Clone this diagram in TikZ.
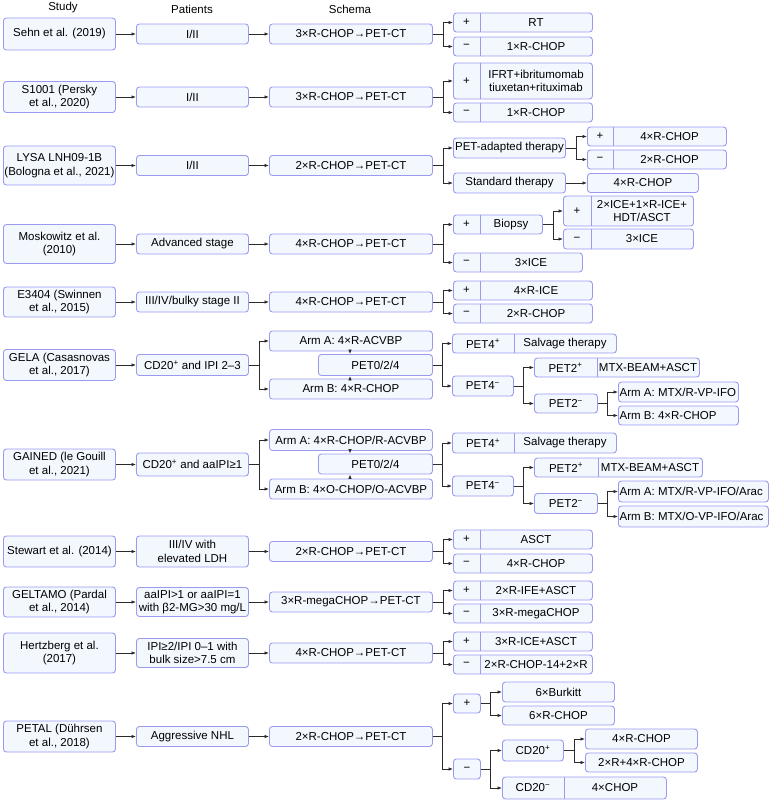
\documentclass[tikz,border=0pt]{standalone}
\usepackage{fontspec}
\setmainfont{Liberation Sans}
\usetikzlibrary{arrows.meta}
\definecolor{bcol}{HTML}{9A9AF0}
\definecolor{fcol}{HTML}{F3F7FE}
\definecolor{lcol}{HTML}{2B2B2B}
\newcommand{\fs}{\fontsize{11.5}{13.5}\selectfont}
\tikzset{
 bx/.style={draw=bcol, fill=fcol, rounded corners=3pt, line width=0.9pt, inner sep=0.5pt, font=\fs, align=center},
 txt/.style={font=\fs, inner sep=0pt, align=center},
 dv/.style={draw=bcol, line width=0.9pt},
 arr/.style={draw=lcol, line width=0.8pt, -{Latex[length=4.5pt,width=3.6pt]}},
}
\newcommand{\BX}[6]{%
 \pgfmathsetmacro\mybw{#3-#2}%
 \node[bx,anchor=west,minimum width=\mybw pt,minimum height=#5pt] (#1) at (#2,-#4) {#6};}
\newcommand{\BXL}[6]{%
 \pgfmathsetmacro\mybw{#3-#2}%
 \pgfmathsetmacro\myxl{#2+1.5}%
 \node[bx,anchor=west,minimum width=\mybw pt,minimum height=#5pt] (#1) at (#2,-#4) {};%
 \node[txt,anchor=west] (#1t) at (\myxl,-#4) {#6};}
\newcommand{\SB}[8]{%
 \pgfmathsetmacro\mybw{#4-#2}%
 \pgfmathsetmacro\myyt{-#5+#6/2}%
 \pgfmathsetmacro\myyb{-#5-#6/2}%
 \pgfmathsetmacro\myxl{(#2+#3)/2}%
 \pgfmathsetmacro\myxr{(#3+#4)/2}%
 \node[bx,anchor=west,minimum width=\mybw pt,minimum height=#6pt] (#1) at (#2,-#5) {};%
 \draw[dv] (#3,\myyt) -- (#3,\myyb);%
 \node[txt] (#1l) at (\myxl,-#5) {#7};%
 \node[txt] (#1r) at (\myxr,-#5) {#8};}
\begin{document}
\begin{tikzpicture}[x=1pt,y=1pt]
\useasboundingbox (0,0) rectangle (770,-801);
% headers
\node[txt] (h1) at (63,-8) {Study};
\node[txt] (h2) at (192,-9) {Patients};
\node[txt] (h3) at (350,-9) {Schema};
% Row 1
\BX{s1}{3}{115}{34}{32}{Sehn et al. (2019)}
\BX{p1}{136}{248}{34}{20}{I/II}
\BX{c1}{269}{432}{34}{20}{3×R-CHOP→PET-CT}
\SB{r1a}{453}{480}{592}{22.5}{19}{+}{RT}
\SB{r1b}{453}{480}{592}{46.5}{19}{−}{1×R-CHOP}
\draw[arr] (s1.east) -- (p1.west);
\draw[arr] (p1.east) -- (c1.west);
\draw[arr] (c1.east) -- ++(10,0) |- (r1a.west);
\draw[arr] (c1.east) -- ++(10,0) |- (r1b.west);
% Row 2
\BX{s2}{3}{115}{97}{31}{S1001 (Persky\\et al., 2020)}
\BX{p2}{136}{248}{97}{20}{I/II}
\BX{c2}{269}{432}{97}{20}{3×R-CHOP→PET-CT}
\SB{r2a}{453}{480}{592}{81}{36}{+}{IFRT+ibritumomab\\tiuxetan+rituximab}
\SB{r2b}{453}{480}{592}{112.5}{19}{−}{1×R-CHOP}
\draw[arr] (s2.east) -- (p2.west);
\draw[arr] (p2.east) -- (c2.west);
\draw[arr] (c2.east) -- ++(10,0) |- (r2a.west);
\draw[arr] (c2.east) -- ++(10,0) |- (r2b.west);
% Row 3
\BX{s3}{3}{115}{165.5}{39}{LYSA LNH09-1B\\(Bologna et al., 2021)}
\BX{p3}{136}{248}{165.5}{20}{I/II}
\BX{c3}{269}{432}{165.5}{20}{2×R-CHOP→PET-CT}
\BX{r3a}{453}{565}{148}{20}{PET-adapted therapy}
\BX{r3b}{453}{565}{183}{20}{Standard therapy}
\SB{r3c}{587}{613}{726}{136.5}{19}{+}{4×R-CHOP}
\SB{r3d}{587}{613}{726}{159.5}{19}{−}{2×R-CHOP}
\BX{r3e}{587}{698}{183}{19}{4×R-CHOP}
\draw[arr] (s3.east) -- (p3.west);
\draw[arr] (p3.east) -- (c3.west);
\draw[arr] (c3.east) -- ++(10,0) |- (r3a.west);
\draw[arr] (c3.east) -- ++(10,0) |- (r3b.west);
\draw[arr] (r3a.east) -- ++(10,0) |- (r3c.west);
\draw[arr] (r3a.east) -- ++(10,0) |- (r3d.west);
\draw[arr] (r3b.east) -- (r3e.west);
% Row 4
\BX{s4}{3}{115}{244}{39}{Moskowitz et al.\\(2010)}
\BX{p4}{136}{248}{244}{20}{Advanced stage}
\BX{c4}{269}{432}{244}{20}{4×R-CHOP→PET-CT}
\SB{r4a}{453}{480}{542}{224.5}{19}{+}{Biopsy}
\SB{r4b}{453}{480}{582}{262.5}{19}{−}{3×ICE}
\SB{r4c}{563}{591}{693}{211}{30}{+}{2×ICE+1×R-ICE+\\HDT/ASCT}
\SB{r4d}{563}{591}{693}{239}{20}{−}{3×ICE}
\draw[arr] (s4.east) -- (p4.west);
\draw[arr] (p4.east) -- (c4.west);
\draw[arr] (c4.east) -- ++(10,0) |- (r4a.west);
\draw[arr] (c4.east) -- ++(10,0) |- (r4b.west);
\draw[arr] (r4a.east) -- ++(10,0) |- (r4c.west);
\draw[arr] (r4a.east) -- ++(10,0) |- (r4d.west);
% Row 5
\BX{s5}{3}{115}{302}{30}{E3404 (Swinnen\\et al., 2015)}
\BX{p5}{136}{248}{302}{20}{III/IV/bulky stage II}
\BX{c5}{269}{432}{302}{20}{4×R-CHOP→PET-CT}
\SB{r5a}{453}{480}{592}{290.5}{19}{+}{4×R-ICE}
\SB{r5b}{453}{480}{592}{313.5}{19}{−}{2×R-CHOP}
\draw[arr] (s5.east) -- (p5.west);
\draw[arr] (p5.east) -- (c5.west);
\draw[arr] (c5.east) -- ++(10,0) |- (r5a.west);
\draw[arr] (c5.east) -- ++(10,0) |- (r5b.west);
% Row 6 GELA
\BX{s6}{3}{115}{365}{31}{GELA (Casasnovas\\et al., 2017)}
\BX{p6}{136}{248}{365}{21}{CD20\textsuperscript{+} and IPI 2–3}
\BX{a6}{269}{432}{341}{20}{Arm A: 4×R-ACVBP}
\BX{b6}{269}{432}{389}{20}{Arm B: 4×R-CHOP}
\BX{e6}{318}{432}{365}{21}{PET0/2/4}
\SB{r6a}{452}{514}{616}{343.5}{19}{PET4\textsuperscript{+}}{Salvage therapy}
\BX{r6b}{452}{513}{386}{20}{PET4\textsuperscript{−}}
\SB{r6c}{534}{597}{699}{367.5}{19}{PET2\textsuperscript{+}}{MTX-BEAM+ASCT}
\BX{r6d}{534}{597}{403.5}{19}{PET2\textsuperscript{−}}
\BXL{r6e}{618}{738}{392}{20}{Arm A: MTX/R-VP-IFO}
\BXL{r6f}{618}{738}{415.5}{19}{Arm B: 4×R-CHOP}
\coordinate (gx6) at (350,0);
\draw[arr] (s6.east) -- (p6.west);
\draw[arr] (p6.east) -- ++(10,0) |- (a6.west);
\draw[arr] (p6.east) -- ++(10,0) |- (b6.west);
\draw[arr] (gx6 |- a6.south) -- (gx6 |- e6.north);
\draw[arr] (gx6 |- b6.north) -- (gx6 |- e6.south);
\draw[arr] (e6.east) -- ++(9,0) |- (r6a.west);
\draw[arr] (e6.east) -- ++(9,0) |- (r6b.west);
\draw[arr] (r6b.east) -- ++(9,0) |- (r6c.west);
\draw[arr] (r6b.east) -- ++(9,0) |- (r6d.west);
\draw[arr] (r6d.east) -- ++(9,0) |- (r6e.west);
\draw[arr] (r6d.east) -- ++(9,0) |- (r6f.west);
% Row 7 GAINED
\BX{s7}{3}{115}{464.5}{31}{GAINED (le Gouill\\et al., 2021)}
\BX{p7}{136}{248}{464.5}{23}{CD20\textsuperscript{+} and aaIPI≥1}
\BX{a7}{269}{432}{440}{21}{Arm A: 4×R-CHOP/R-ACVBP}
\BX{b7}{269}{432}{489}{20}{Arm B: 4×O-CHOP/O-ACVBP}
\BX{e7}{318}{432}{464}{20}{PET0/2/4}
\SB{r7a}{452}{514}{616}{443}{20}{PET4\textsuperscript{+}}{Salvage therapy}
\BX{r7b}{452}{513}{486}{20}{PET4\textsuperscript{−}}
\SB{r7c}{534}{598}{702}{467.5}{19}{PET2\textsuperscript{+}}{MTX-BEAM+ASCT}
\BX{r7d}{534}{597}{503.5}{20}{PET2\textsuperscript{−}}
\BXL{r7e}{618}{768}{491.5}{21}{Arm A: MTX/R-VP-IFO/Arac}
\BXL{r7f}{618}{768}{516.5}{21}{Arm B: MTX/O-VP-IFO/Arac}
\coordinate (gx7) at (350,0);
\draw[arr] (s7.east) -- (p7.west);
\draw[arr] (p7.east) -- ++(10,0) |- (a7.west);
\draw[arr] (p7.east) -- ++(10,0) |- (b7.west);
\draw[arr] (gx7 |- a7.south) -- (gx7 |- e7.north);
\draw[arr] (gx7 |- b7.north) -- (gx7 |- e7.south);
\draw[arr] (e7.east) -- ++(9,0) |- (r7a.west);
\draw[arr] (e7.east) -- ++(9,0) |- (r7b.west);
\draw[arr] (r7b.east) -- ++(9,0) |- (r7c.west);
\draw[arr] (r7b.east) -- ++(9,0) |- (r7d.west);
\draw[arr] (r7d.east) -- ++(9,0) |- (r7e.west);
\draw[arr] (r7d.east) -- ++(9,0) |- (r7f.west);
% Row 8 Stewart
\BX{s8}{3}{115}{551.5}{31}{Stewart et al. (2014)}
\BX{p8}{136}{248}{551.5}{31}{III/IV with\\elevated LDH}
\BX{c8}{269}{432}{551.5}{20}{2×R-CHOP→PET-CT}
\SB{r8a}{453}{480}{592}{539.5}{19}{+}{ASCT}
\SB{r8b}{453}{480}{592}{563.5}{19}{−}{4×R-CHOP}
\draw[arr] (s8.east) -- (p8.west);
\draw[arr] (p8.east) -- (c8.west);
\draw[arr] (c8.east) -- ++(10,0) |- (r8a.west);
\draw[arr] (c8.east) -- ++(10,0) |- (r8b.west);
% Row 9 GELTAMO
\BX{s9}{3}{115}{602}{30}{GELTAMO (Pardal\\et al., 2014)}
\BX{p9}{136}{248}{602}{29}{aaIPI>1 or aaIPI=1\\with β2-MG>30 mg/L}
\BX{c9}{269}{432}{602}{20}{3×R-megaCHOP→PET-CT}
\SB{r9a}{453}{480}{592}{590.5}{19}{+}{2×R-IFE+ASCT}
\SB{r9b}{453}{480}{592}{613.5}{19}{−}{3×R-megaCHOP}
\draw[arr] (s9.east) -- (p9.west);
\draw[arr] (p9.east) -- (c9.west);
\draw[arr] (c9.east) -- ++(10,0) |- (r9a.west);
\draw[arr] (c9.east) -- ++(10,0) |- (r9b.west);
% Row 10 Hertzberg
\BX{s10}{3}{115}{653}{40}{Hertzberg et al.\\(2017)}
\BX{p10}{136}{248}{653}{29}{IPI≥2/IPI 0–1 with\\bulk size>7.5 cm}
\BX{c10}{269}{432}{653}{20}{4×R-CHOP→PET-CT}
\SB{r10a}{453}{480}{592}{641.5}{19}{+}{3×R-ICE+ASCT}
\SB{r10b}{453}{480}{592}{664.5}{19}{−}{2×R-CHOP-14+2×R}
\draw[arr] (s10.east) -- (p10.west);
\draw[arr] (p10.east) -- (c10.west);
\draw[arr] (c10.east) -- ++(10,0) |- (r10a.west);
\draw[arr] (c10.east) -- ++(10,0) |- (r10b.west);
% Row 11 PETAL
\BX{s11}{3}{115}{736.5}{31}{PETAL (Dührsen\\et al., 2018)}
\BX{p11}{136}{248}{736.5}{20}{Aggressive NHL}
\BX{c11}{269}{432}{736.5}{20}{2×R-CHOP→PET-CT}
\BX{r11a}{453}{480}{703.5}{19}{+}
\BX{r11b}{453}{480}{769}{20}{−}
\BX{r11c}{502}{614}{692}{20}{6×Burkitt}
\BX{r11d}{502}{614}{715.5}{19}{6×R-CHOP}
\BX{r11e}{502}{563}{750.5}{21}{CD20\textsuperscript{+}}
\SB{r11f}{502}{564}{666}{788}{22}{CD20\textsuperscript{−}}{4×CHOP}
\BX{r11g}{585}{697}{739}{20}{4×R-CHOP}
\BX{r11h}{585}{697}{762.5}{19}{2×R+4×R-CHOP}
\draw[arr] (s11.east) -- (p11.west);
\draw[arr] (p11.east) -- (c11.west);
\draw[arr] (c11.east) -- ++(9,0) |- (r11a.west);
\draw[arr] (c11.east) -- ++(9,0) |- (r11b.west);
\draw[arr] (r11a.east) -- ++(9,0) |- (r11c.west);
\draw[arr] (r11a.east) -- ++(9,0) |- (r11d.west);
\draw[arr] (r11b.east) -- ++(9,0) |- (r11e.west);
\draw[arr] (r11b.east) -- ++(9,0) |- (r11f.west);
\draw[arr] (r11e.east) -- ++(10,0) |- (r11g.west);
\draw[arr] (r11e.east) -- ++(10,0) |- (r11h.west);
\end{tikzpicture}
\end{document}
